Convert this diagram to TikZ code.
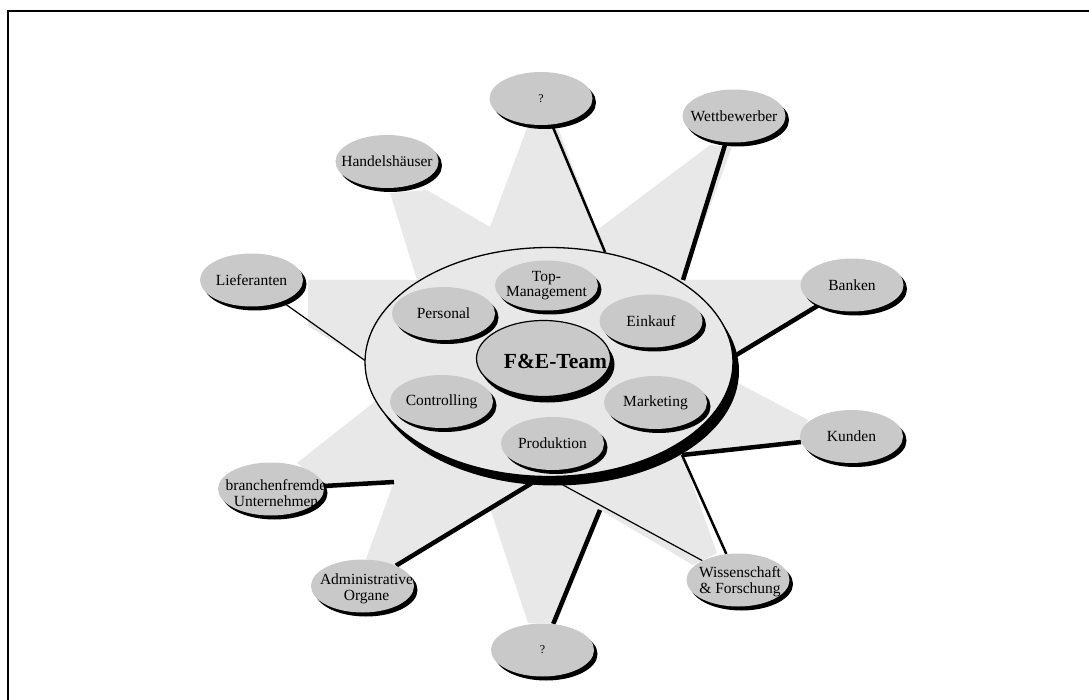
\documentclass[tikz,border=0pt]{standalone}
\usepackage{fontspec}
\setmainfont{Liberation Serif}
\usetikzlibrary{shapes.geometric,shadows}
\pgfdeclarelayer{back}
\pgfsetlayers{back,main}
\definecolor{starfill}{gray}{0.91}
\definecolor{bubblefill}{gray}{0.79}
\begin{document}
\begin{tikzpicture}[x=1pt,y=-1pt,
  bubble/.style={ellipse, fill=bubblefill, inner sep=0pt,
    minimum width=103pt, minimum height=53pt,
    drop shadow={shadow xshift=3.5pt, shadow yshift=-4pt, fill=black, opacity=1}},
  core/.style={ellipse, fill=bubblefill, draw=black, line width=1.2pt, inner sep=0pt,
    minimum width=134pt, minimum height=76pt,
    drop shadow={shadow xshift=4pt, shadow yshift=-6pt, fill=black, opacity=1}},
  disc/.style={ellipse, fill=starfill, draw=black, line width=1.3pt, inner sep=0pt,
    minimum width=368pt, minimum height=229pt,
    drop shadow={shadow xshift=6pt, shadow yshift=-9pt, fill=black, opacity=1}},
  txt/.style={font=\fontsize{15.5}{15.7}\selectfont, align=center, inner sep=0pt, text=black},
  qtxt/.style={font=\fontsize{12}{14}\selectfont, inner sep=0pt, text=black},
  coretxt/.style={font=\fontsize{21.5}{24}\selectfont\bfseries, inner sep=0pt, text=black},
  thinlink/.style={line width=1.2pt},
  midlink/.style={line width=2.5pt},
  boldlink/.style={line width=4.5pt},
]
\useasboundingbox (0,0) rectangle (1089,700);

% frame
\draw[line width=2pt] (8,700) |- (1089,11);

% central disc with the internal units
\node[disc] (disc) at (549,362) {};
\node[bubble, minimum height=50pt] (top) at (546.5,285.5) {};
\node[bubble] (pers) at (443.5,313.5) {};
\node[bubble] (eink) at (651,321) {};
\node[bubble] (ctrl) at (441.5,401.5) {};
\node[bubble] (mark) at (655.5,402.5) {};
\node[bubble] (prod) at (552.5,443.5) {};
\node[core] (fe) at (543.5,358.5) {};

\node[txt] (topt) at (top) {Top-\\Management};
\node[txt] (perst) at (pers) {Personal};
\node[txt] (einkt) at (eink) {Einkauf};
\node[txt] (ctrlt) at (ctrl) {Controlling};
\node[txt] (markt) at (mark) {Marketing};
\node[txt] (prodt) at (prod) {Produktion};
\node[coretxt, xshift=12pt, yshift=-3pt] (fet) at (fe) {F\&E-Team};

% external partners
\node[bubble] (lief) at (251.5,280) {};
\node[bubble] (hand) at (387,161.5) {};
\node[bubble] (qtop) at (541,98.5) {};
\node[bubble] (wett) at (734,116) {};
\node[bubble] (bank) at (852,285) {};
\node[bubble] (kund) at (851.5,436.5) {};
\node[bubble] (wiss) at (738,580) {};
\node[bubble] (qbot) at (542.5,650) {};
\node[bubble] (admin) at (362.5,586) {};
\node[bubble, minimum width=106pt] (fremd) at (271,489) {};

\node[txt] (lieft) at (lief) {Lieferanten};
\node[txt] (handt) at (hand) {Handelshäuser};
\node[qtxt] (qtopt) at (qtop) {?};
\node[txt] (wettt) at (wett) {Wettbewerber};
\node[txt] (bankt) at (bank) {Banken};
\node[txt] (kundt) at (kund) {Kunden};
\node[txt, xshift=2pt, yshift=-2pt] (wisst) at (wiss) {Wissenschaft\\\& Forschung};
\node[qtxt] (qbott) at (qbot) {?};
\node[txt, xshift=4pt, yshift=-3pt] (admint) at (admin) {Administrative\\Organe};
\node[txt, xshift=5pt, yshift=-4pt] (fremdt) at (fremd) {branchenfremde\\Unternehmen};

% end points on the rim of the disc and free ends
\coordinate (eLief) at (367,362);
\coordinate (eQtop) at (605,252);
\coordinate (eWett) at (683,280);
\coordinate (eBank) at (733,357);
\coordinate (eKund) at (682,455);
\coordinate (eWiss) at (563,485);
\coordinate (eQbot) at (600,510);
\coordinate (eAdmin) at (532,483);
\coordinate (eFremd) at (394,482);

\begin{pgfonlayer}{back}
  % light star behind the network
  \fill[starfill] (308,326) -- (308,280) -- (417,280) -- (390,193) -- (427,190)
    -- (490,227) -- (527,128) -- (558,128) -- (597,230) -- (710,145) -- (732,147)
    -- (683,280) -- (803,280) -- (813,307) -- (733,357) -- (700,363) -- (808,420)
    -- (800,442) -- (682,455) -- (717,553) -- (693,565) -- (600,510) -- (557,623)
    -- (528,623) -- (490,508) -- (394,565) -- (366,559) -- (394,482) -- (328,489)
    -- (297,463) -- (373,403) -- (395,385) -- (367,362) -- cycle;
  % connectors
  \draw[thinlink] (lief) -- (eLief);
  \draw[midlink] (qtop) -- (eQtop);
  \draw[boldlink] (wett) -- (eWett);
  \draw[boldlink] (bank) -- (eBank);
  \draw[boldlink] (kund) -- (eKund);
  \draw[midlink] (wiss) -- (eKund);
  \draw[thinlink] (wiss) -- (eWiss);
  \draw[boldlink] (qbot) -- (eQbot);
  \draw[boldlink] (admin) -- (eAdmin);
  \draw[boldlink] (fremd) -- (eFremd);
\end{pgfonlayer}
\end{tikzpicture}
\end{document}
